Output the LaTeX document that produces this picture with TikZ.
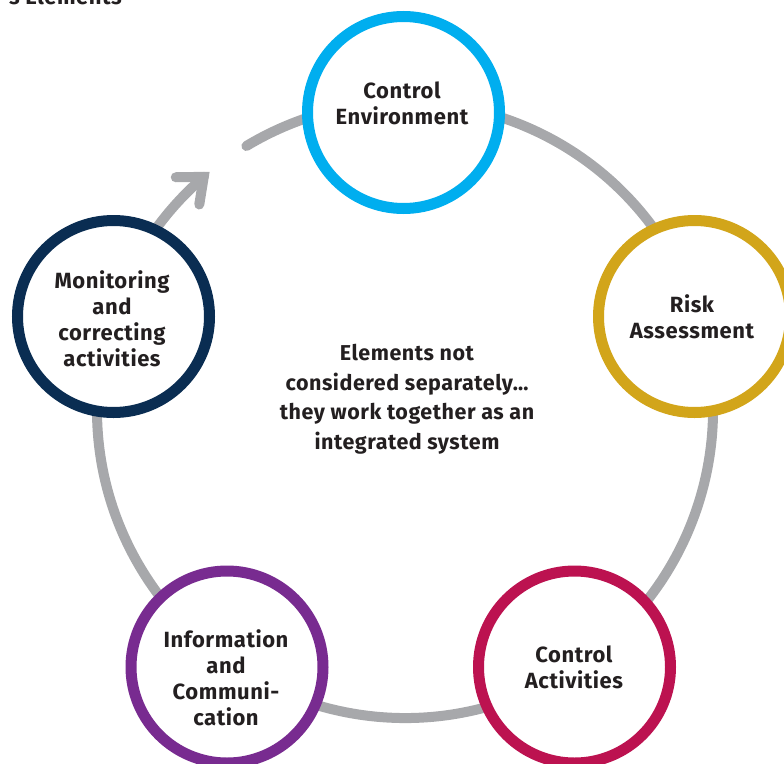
\documentclass[tikz,border=0pt]{standalone}
\usepackage{fontspec}
\setmainfont{Fira Sans}[LetterSpace=2.5]
\usetikzlibrary{calc}
\definecolor{ceblue}{HTML}{00AEEF}
\definecolor{ragold}{HTML}{D2A51A}
\definecolor{cared}{HTML}{BC1250}
\definecolor{icpurple}{HTML}{782B90}
\definecolor{mcnavy}{HTML}{0A2D52}
\definecolor{ringgray}{HTML}{A7A8AB}
\definecolor{txt}{HTML}{231F20}
\begin{document}
\begin{tikzpicture}[x=1pt,y=-1pt,
  comp/.style={circle, draw=#1, line width=11pt, fill=white, minimum size=192pt, inner sep=0pt},
  lbl/.style={font=\fontsize{22}{26}\selectfont\bfseries, text=txt, align=center, inner sep=0pt},
  midlbl/.style={font=\fontsize{21.5}{29.5}\selectfont\bfseries, text=txt, align=center, inner sep=0pt},
  ring/.style={draw=ringgray, line width=10pt, line cap=round},
  chevron/.style={draw=ringgray, line width=10pt, line cap=round, line join=miter}]
\useasboundingbox (0,0) rectangle (784,763);
% title (cut off at the top edge)
\node[anchor=base east, font=\fontsize{22}{26}\selectfont\bfseries, text=txt, inner sep=0pt] (title) at (122,4) {s Elements};
% ring
\coordinate (ringC) at (405,410);
\coordinate (ringStart) at ($(ringC)+(-121:308)$);
\coordinate (tip) at ($(ringC)+(229.2:308)$);
\draw[ring] (ringStart) arc[start angle=-121, end angle=229.2, radius=308];
\draw[chevron] ([shift={(179.2:28)}]tip) -- (tip) -- ([shift={(99.2:28)}]tip);
% components
\node[comp=ceblue]   (ce) at (403.5,112.5) {};
\node[comp=ragold]   (ra) at (694.5,316.5) {};
\node[comp=cared]    (ca) at (574.5,667) {};
\node[comp=icpurple] (ic) at (227,667) {};
\node[comp=mcnavy]   (mc) at (113.5,316.5) {};
% labels
\node[lbl] (ceT) at (402,103.3) {Control\\Environment};
\node[lbl] (raT) at (692,317) {Risk\\Assessment};
\node[lbl] (caT) at (574,667.3) {Control\\Activities};
\node[lbl] (icT) at (226,677.3) {Information\\and\\Communi-\\cation};
\node[lbl] (mcT) at (112,318.4) {Monitoring\\and\\correcting\\activities};
\node[midlbl] (mid) at (407,399) {Elements not\\considered separately…\\they work together as an\\integrated system};
\end{tikzpicture}
\end{document}
